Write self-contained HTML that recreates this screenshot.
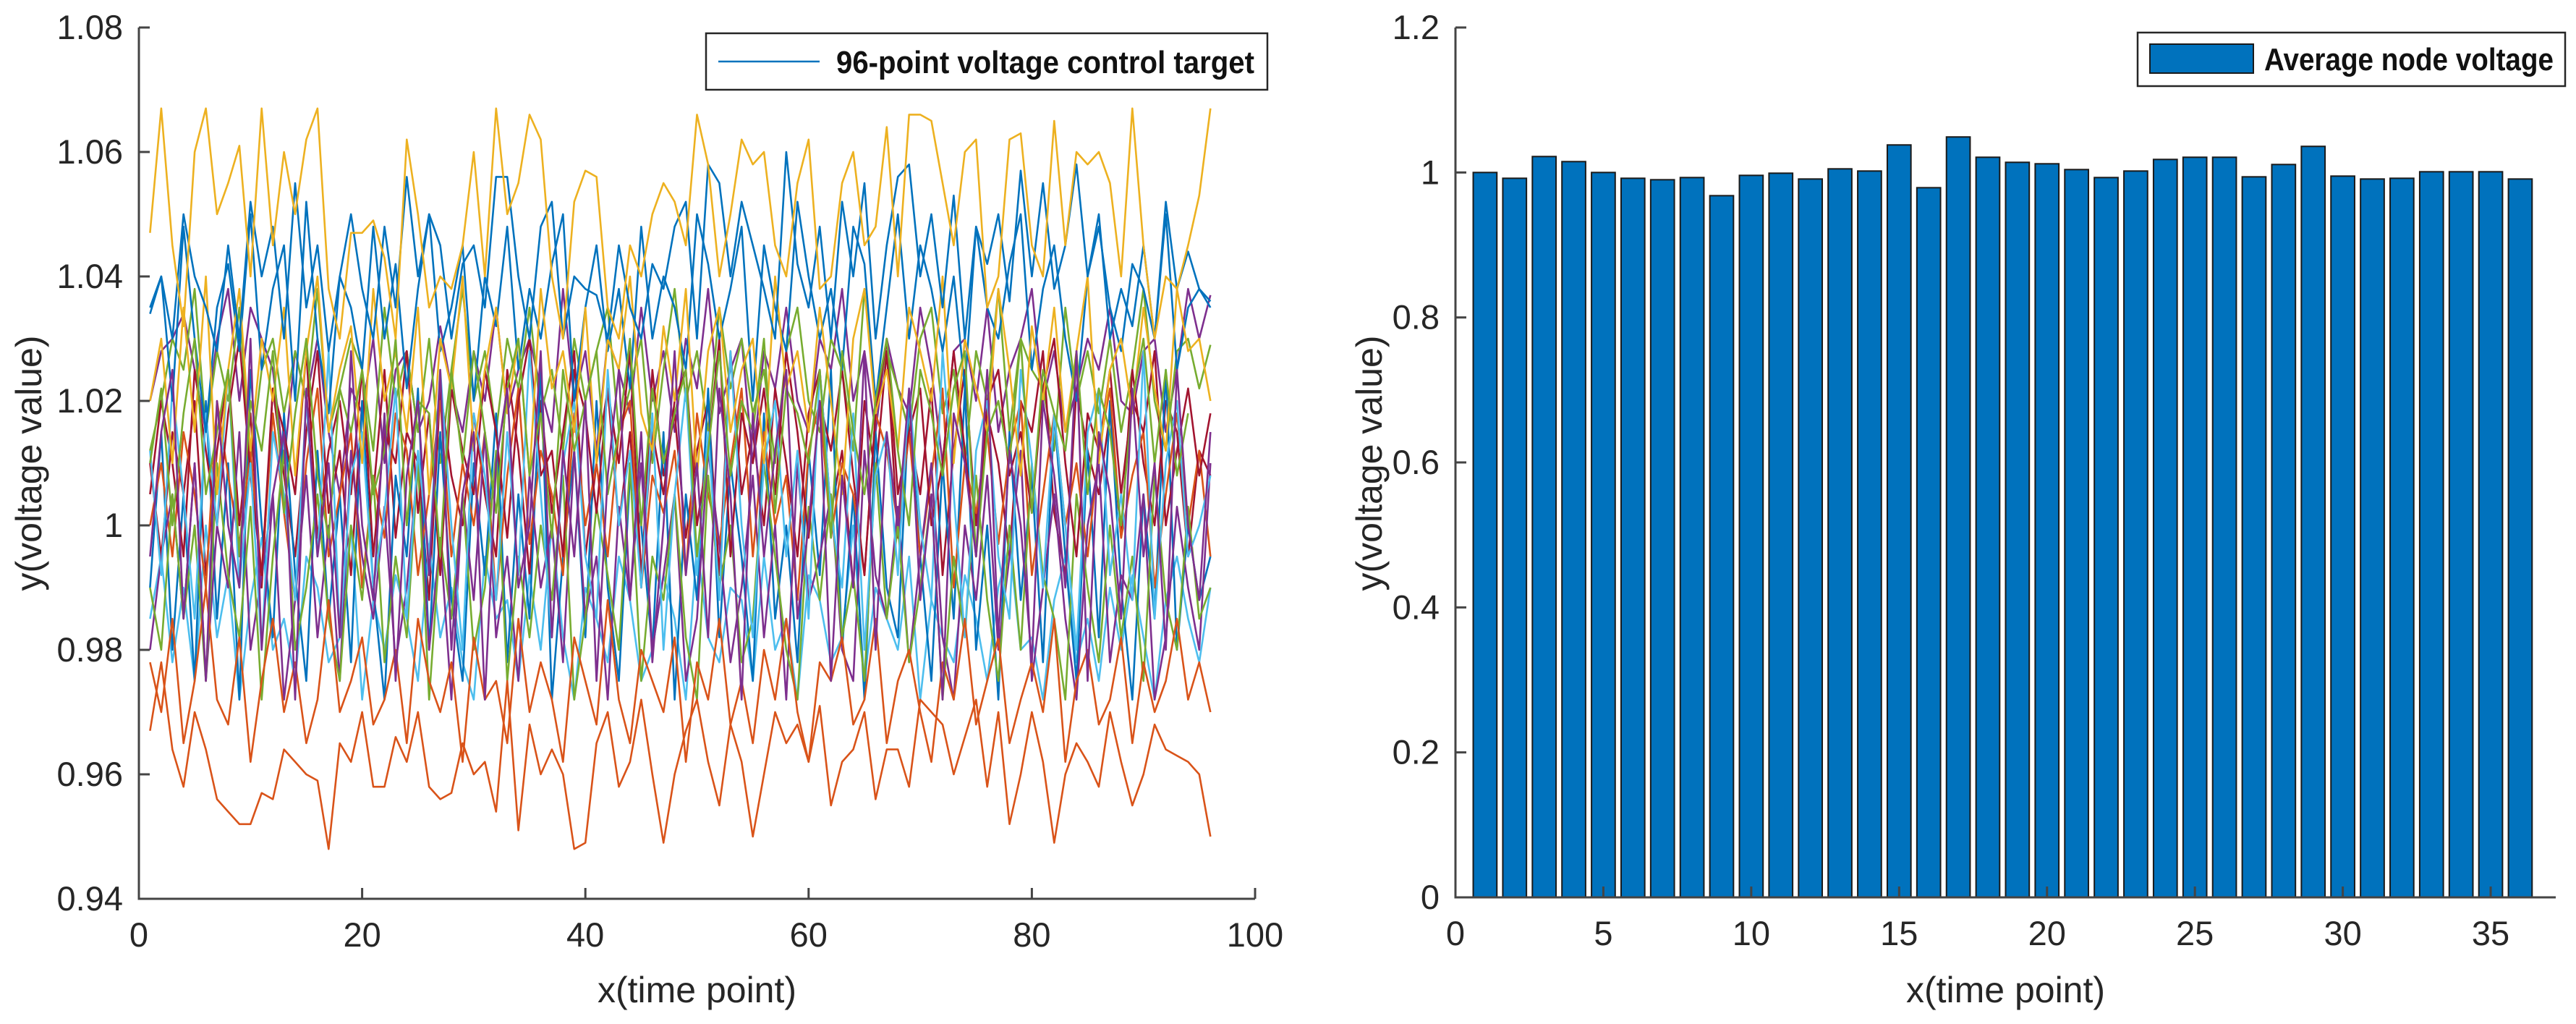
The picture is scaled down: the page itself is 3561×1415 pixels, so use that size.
<!DOCTYPE html>
<html><head><meta charset="utf-8"><style>
html,body{margin:0;padding:0;background:#fff;}
svg{display:block;font-family:"Liberation Sans",Arial,sans-serif;}
</style></head><body>
<svg id="chart" width="3561" height="1415" viewBox="0 0 3561 1415" xmlns="http://www.w3.org/2000/svg">
<g id="left"></g>
<g id="right"></g>
</svg>
<script>
// ---- Left chart data (values in thousandths offset from 1.0) ----
const leftXTicks = [0,20,40,60,80,100];
const leftYTicks = [0.94,0.96,0.98,1,1.02,1.04,1.06,1.08];
const leftYTickLabels = ["0.94","0.96","0.98","1","1.02","1.04","1.06","1.08"];
const seriesColors = ["#EDB120","#D95319","#0072BD","#7E2F8E","#77AC30","#A2142F","#4DBEEE","#0072BD","#D95319","#7E2F8E","#77AC30","#A2142F","#4DBEEE","#0072BD","#D95319","#EDB120","#77AC30","#7E2F8E"];
const s1 = [47,67,45,32,60,67,50,55,61,40,67,45,60,50,62,67,38,30,47,47,49,43,30,62,50,35,40,38,45,60,40,67,50,55,66,62,40,30,52,57,56,35,30,45,40,50,55,52,45,66,58,40,50,62,58,60,45,40,55,62,38,40,55,60,45,48,64,40,66,66,65,55,45,60,62,35,40,62,63,45,40,65,45,60,58,60,55,40,67,45,30,40,38,45,53,67];
const s2 = [-33,-22,-36,-42,-30,-36,-44,-46,-48,-48,-43,-44,-36,-38,-40,-41,-52,-35,-38,-30,-42,-42,-34,-38,-30,-42,-44,-43,-35,-40,-38,-46,-25,-49,-32,-40,-36,-40,-52,-51,-35,-30,-42,-38,-28,-40,-51,-40,-33,-28,-38,-45,-32,-38,-50,-40,-30,-35,-32,-38,-29,-45,-38,-36,-30,-44,-36,-36,-42,-28,-30,-32,-40,-34,-28,-42,-30,-48,-40,-30,-38,-51,-40,-35,-38,-42,-30,-38,-45,-40,-32,-36,-37,-38,-40,-50];
const s3 = [35,40,30,50,40,35,28,45,30,52,40,48,30,55,35,45,28,40,50,38,30,48,35,56,40,50,45,30,42,45,35,56,56,40,30,48,52,30,40,38,37,30,45,35,30,42,38,48,52,30,58,55,40,52,45,38,30,60,42,35,48,30,52,40,55,30,45,56,58,40,50,35,53,30,48,42,50,36,57,40,55,38,45,58,40,50,30,38,32,45,30,52,38,44,38,36];
const s4 = [20,28,30,34,25,15,30,38,20,35,30,25,10,28,20,30,15,5,22,18,30,10,25,28,15,20,32,22,15,28,20,35,18,25,30,22,15,38,20,28,12,30,25,18,35,20,28,15,30,22,38,18,25,30,10,28,22,35,20,15,30,25,38,20,28,15,30,22,18,35,25,10,28,30,20,35,15,25,30,38,20,28,15,22,30,25,35,20,18,28,30,15,25,38,30,37];
const s5 = [12,20,30,25,38,15,28,20,35,10,25,30,18,28,20,38,15,22,30,25,12,35,20,28,15,30,10,25,38,20,28,15,30,22,35,18,25,12,30,20,28,35,15,22,30,10,25,38,20,28,15,35,22,30,18,25,10,28,35,20,15,30,25,12,38,20,28,22,15,30,35,18,25,10,28,20,38,15,30,25,22,12,35,20,28,18,30,15,25,38,20,12,28,30,22,29];
const s6 = [10,-5,15,5,20,-8,12,25,0,18,-10,22,8,-5,15,28,2,12,-8,20,5,25,-2,15,10,-12,22,8,0,18,5,-5,25,12,-8,20,2,15,28,-5,10,22,0,15,-10,25,8,18,-2,12,20,-8,28,5,15,0,22,10,-5,18,25,2,12,-10,20,8,28,-2,15,5,22,-8,12,25,0,18,10,-5,20,15,28,2,-8,22,12,5,18,-2,25,10,0,20,15,-5,12,8];
const s7 = [-15,-5,-22,-10,-25,0,-18,-8,-28,-12,-2,-20,-15,-25,-5,-10,-22,-18,0,-28,-12,-20,-8,-15,-25,-3,-18,-10,-22,-28,-5,-15,-12,-25,-8,-20,0,-18,-28,-10,-15,-22,-5,-12,-25,-20,-8,-15,-28,-3,-18,-22,-10,-12,-25,-5,-20,-15,-28,-8,-12,-22,-18,0,-25,-10,-15,-20,-5,-28,-12,-18,-22,-8,-15,-25,-10,-3,-20,-18,-28,-12,-5,-22,-15,-25,-10,-20,-8,-18,-28,-12,-5,-15,-22,-10];
const s8 = [-10,15,-20,5,-25,20,-15,10,-28,25,0,-18,18,-8,-25,12,-15,5,-22,20,-10,-28,8,-5,22,-20,15,-12,-25,10,-8,18,-22,5,-15,25,-28,-5,12,-18,20,-10,-25,8,0,-20,15,-28,5,-12,22,-18,10,-5,-25,18,-15,0,-22,12,-8,25,-20,5,-28,15,-10,-18,20,-5,-25,10,-15,22,-20,0,-28,15,-12,8,-22,18,-5,-25,12,-18,20,-10,-28,5,-15,25,-20,0,-12,-5];
const s9 = [0,10,-5,15,5,-10,20,8,-3,12,-8,18,2,-12,10,22,-5,5,15,-10,8,-2,18,12,-8,5,20,-5,10,0,15,-12,8,22,-3,12,5,-8,18,0,10,-5,15,20,-10,8,2,12,-8,18,5,-3,10,22,-5,15,0,8,-12,12,20,-2,10,5,-8,18,12,0,15,-5,8,22,-10,10,2,15,-3,12,20,-8,5,18,0,10,-5,12,22,-2,8,15,-10,5,18,0,12,-5];
const s10 = [-20,-5,5,-15,10,-25,0,-10,15,-20,-8,5,-28,-12,8,-18,0,-25,12,-5,-15,3,-22,-10,10,-20,-2,-28,5,-12,15,-18,-5,-25,8,-10,0,-22,12,-15,-5,-28,3,-12,10,-20,-8,5,-25,-15,12,-3,-22,-10,8,-18,0,-28,10,-12,-5,5,-20,-25,12,-8,-15,3,-22,-5,10,-18,-28,0,-12,8,-20,-5,12,-25,-10,5,-15,-28,0,10,-22,-8,-12,5,-28,-18,3,-10,-20,10];
const s11 = [-10,-20,5,-15,0,-25,10,-8,-18,3,-28,-5,12,-20,-10,5,-15,-25,0,-12,8,-22,-5,-18,10,-28,-2,-15,5,-20,-10,12,-25,-5,-18,0,-12,8,-28,-15,3,-8,-20,10,-25,-5,-12,5,-18,-28,8,-10,0,-22,-15,10,-5,-20,-28,3,-12,5,-18,-8,-25,10,-15,0,-22,-10,5,-28,-5,-18,8,-12,-25,0,-20,10,-8,-15,-28,5,-10,-22,0,-18,-5,-25,8,-12,-20,3,-15,-10];
const s12 = [5,20,10,-5,25,12,0,18,30,8,-8,22,15,5,28,-2,12,20,5,25,-5,15,10,28,2,18,-8,22,12,5,25,15,-2,20,30,8,12,-5,25,18,2,22,10,28,-8,15,5,20,25,0,12,30,-5,18,10,22,5,28,15,-2,20,12,25,8,-8,18,30,5,15,22,0,10,28,12,-5,20,25,8,15,2,22,30,10,-5,18,12,25,5,20,15,28,0,12,22,8,18];
const s13 = [12,-8,22,5,-15,18,0,25,-10,10,-20,15,5,-12,20,-5,28,-18,8,15,-10,2,22,-15,12,-5,25,0,-20,18,8,-12,15,-8,28,5,-18,10,20,-5,-15,25,0,12,-10,18,-20,5,22,-8,15,-12,28,0,-18,10,20,-5,12,-15,25,2,-10,18,-20,8,15,-8,22,0,-12,28,5,-18,12,20,-5,-15,25,10,-10,18,0,-20,15,22,-8,5,-12,28,-15,10,20,-5,0,8];
const s14 = [34,40,20,48,30,15,35,42,28,50,25,38,45,20,52,30,18,40,35,25,48,30,42,22,38,50,28,35,45,20,40,32,48,25,38,30,42,50,20,35,45,28,38,22,48,30,40,35,25,50,42,30,38,48,20,45,35,28,52,40,30,38,25,48,42,20,35,50,30,45,38,28,40,22,48,35,30,42,50,25,38,45,30,20,40,48,35,28,42,38,30,50,25,35,38,35];
const s15 = [-22,-30,-15,-35,-25,-10,-28,-32,-18,-38,-25,-15,-30,-22,-35,-28,-12,-30,-25,-18,-32,-28,-20,-35,-15,-25,-30,-22,-38,-18,-28,-25,-35,-15,-30,-22,-28,-38,-18,-25,-32,-12,-28,-35,-20,-25,-30,-18,-38,-22,-28,-15,-32,-25,-35,-20,-28,-15,-30,-38,-22,-25,-18,-32,-28,-15,-35,-25,-20,-30,-38,-22,-28,-15,-32,-25,-18,-35,-28,-22,-30,-15,-38,-25,-20,-32,-28,-18,-35,-22,-30,-25,-15,-28,-22,-30];
const s16 = [20,30,10,35,15,40,5,25,38,12,30,20,35,8,28,40,15,25,32,10,38,20,28,15,35,5,30,22,40,12,25,35,18,30,8,38,22,28,15,35,10,30,25,40,18,12,32,20,38,8,28,35,15,25,30,10,40,22,28,15,35,20,5,30,38,18,25,12,35,28,20,40,10,30,22,15,38,25,8,32,20,35,15,28,40,10,25,30,18,35,22,12,38,28,30,20];
const s17 = [10,22,0,18,30,5,15,25,-5,20,12,28,2,18,30,8,-2,22,15,25,5,12,30,0,20,18,-5,25,10,28,15,2,22,30,8,18,-2,25,12,20,28,5,15,30,0,22,10,18,25,-5,12,28,8,20,15,30,2,22,18,10,25,-2,28,15,5,20,30,12,0,25,18,8,22,28,-5,15,20,10,30,2,25,18,12,28,5,22,15,0,20,30,10,25,8,18];
const s18 = [-5,15,25,-15,10,-25,20,0,-10,30,-20,5,15,-28,22,-5,10,-18,28,0,-12,18,-25,8,20,-8,25,-20,5,15,-28,10,22,-10,0,28,-18,12,-5,20,-25,8,25,-12,15,-22,0,28,-8,10,-18,22,5,-28,18,-5,12,25,-15,0,20,-25,8,-10,28,-20,15,0,22,-12,5,-28,18,10,-5,25,-18,12,0,-22,20,8,-10,28,-25,15,5,-15,22,-5,10,-20,25,0,-12,15];
const leftSeries = [s4,s5,s6,s7,s8,s9,s10,s11,s12,s13,s14,s15,s16,s17,s18,s3,s2,s1];
const leftColors = [seriesColors[3],seriesColors[4],seriesColors[5],seriesColors[6],seriesColors[7],seriesColors[8],seriesColors[9],seriesColors[10],seriesColors[11],seriesColors[12],seriesColors[13],seriesColors[14],seriesColors[15],seriesColors[16],seriesColors[17],seriesColors[2],seriesColors[1],seriesColors[0]];

// ---- Right chart data ----
const barCategories = [1,2,3,4,5,6,7,8,9,10,11,12,13,14,15,16,17,18,19,20,21,22,23,24,25,26,27,28,29,30,31,32,33,34,35,36];
const barValues = [1.000,0.992,1.022,1.015,1.000,0.992,0.990,0.993,0.968,0.996,0.999,0.991,1.005,1.002,1.038,0.979,1.049,1.021,1.014,1.012,1.004,0.993,1.002,1.018,1.021,1.021,0.994,1.011,1.036,0.995,0.991,0.992,1.001,1.001,1.001,0.991];
const rightXTicks = [0,5,10,15,20,25,30,35];
const rightYTicks = [0,0.2,0.4,0.6,0.8,1,1.2];
const rightYTickLabels = ["0","0.2","0.4","0.6","0.8","1","1.2"];

const NS = "http://www.w3.org/2000/svg";
function mk(tag, attrs, parent){const e=document.createElementNS(NS,tag);for(const k in attrs)e.setAttribute(k,attrs[k]);parent.appendChild(e);return e;}
const AX = "#444";
const TXT = "#262626";

// Left axes
const L = {x0:192,x1:1735,y0:1242,y1:38,xmin:0,xmax:100,ymin:0.94,ymax:1.08};
const lx = v => L.x0 + (v-L.xmin)/(L.xmax-L.xmin)*(L.x1-L.x0);
const ly = v => L.y0 - (v-L.ymin)/(L.ymax-L.ymin)*(L.y0-L.y1);
const gl = document.getElementById('left');

const plotArea = mk('g',{},gl);


leftSeries.forEach((s,i)=>{
  const pts = s.map((v,j)=>lx(j+1).toFixed(1)+','+ly(1+v/1000).toFixed(1)).join(' ');
  const pl = mk('polyline',{points:pts,fill:'none',stroke:leftColors[i],'stroke-width':2.6,'stroke-linejoin':'round'},plotArea);
  
  
});

const lAxes = mk('g',{},gl);


mk('line',{x1:L.x0,y1:L.y1,x2:L.x0,y2:L.y0+1.5,stroke:AX,'stroke-width':3},lAxes);
mk('line',{x1:L.x0-1.5,y1:L.y0,x2:L.x1,y2:L.y0,stroke:AX,'stroke-width':3},lAxes);
leftXTicks.forEach(t=>{
  const x=lx(t);
  mk('line',{x1:x,y1:L.y0,x2:x,y2:L.y0-15,stroke:AX,'stroke-width':3},lAxes);
  const tx=mk('text',{x:x,y:1308,'text-anchor':'middle','font-size':47,fill:TXT},lAxes);
  tx.textContent=t;
  
  
});
leftYTicks.forEach((t,i)=>{
  const y=ly(t);
  mk('line',{x1:L.x0,y1:y,x2:L.x0+15,y2:y,stroke:AX,'stroke-width':3},lAxes);
  const tx=mk('text',{x:170,y:y+16,'text-anchor':'end','font-size':47,fill:TXT},lAxes);
  tx.textContent=leftYTickLabels[i];
  
  
});
const lxt=mk('text',{x:(L.x0+L.x1)/2,y:1385,'text-anchor':'middle','font-size':50,fill:TXT},gl);
lxt.textContent='x(time point)';


const lyt=mk('text',{x:0,y:0,'text-anchor':'middle','font-size':50,fill:TXT,transform:'translate(57,640) rotate(-90)'},gl);
lyt.textContent='y(voltage value)';


// Left legend
const lleg=mk('g',{},gl);


mk('rect',{x:976,y:46,width:776,height:78,fill:'#fff',stroke:'#262626','stroke-width':2.5},lleg);
mk('line',{x1:993,y1:85,x2:1133,y2:85,stroke:'#0072BD','stroke-width':2.6},lleg);
const llt=mk('text',{x:1156,y:101,'font-size':44,'font-weight':'bold',fill:'#111',textLength:578,lengthAdjust:'spacingAndGlyphs'},lleg);
llt.textContent='96-point voltage control target';

// Right axes
const R = {x0:2012,x1:3533,y0:1240,y1:38,xmin:0,xmax:37.2,ymin:0,ymax:1.2};
const rx = v => R.x0 + (v-R.xmin)/(R.xmax-R.xmin)*(R.x1-R.x0);
const ry = v => R.y0 - (v-R.ymin)/(R.ymax-R.ymin)*(R.y0-R.y1);
const gr=document.getElementById('right');
const bars=mk('g',{},gr);


const bw = 0.8;
barCategories.forEach((c,i)=>{
  const x1=rx(c-bw/2), x2=rx(c+bw/2), yt=ry(barValues[i]);
  const r=mk('rect',{x:x1,y:yt,width:x2-x1,height:ry(0)-yt,fill:'#0072BD',stroke:'#1a1a1a','stroke-width':2},bars);
  
  
});
const rAxes=mk('g',{},gr);


mk('line',{x1:R.x0,y1:R.y1,x2:R.x0,y2:R.y0+1.5,stroke:AX,'stroke-width':3},rAxes);
mk('line',{x1:R.x0-1.5,y1:R.y0,x2:R.x1,y2:R.y0,stroke:AX,'stroke-width':3},rAxes);
rightXTicks.forEach(t=>{
  const x=rx(t);
  mk('line',{x1:x,y1:R.y0,x2:x,y2:R.y0-15,stroke:AX,'stroke-width':3},rAxes);
  const tx=mk('text',{x:x,y:1306,'text-anchor':'middle','font-size':47,fill:TXT},rAxes);
  tx.textContent=t;
  
  
});
rightYTicks.forEach((t,i)=>{
  const y=ry(t);
  mk('line',{x1:R.x0,y1:y,x2:R.x0+15,y2:y,stroke:AX,'stroke-width':3},rAxes);
  const tx=mk('text',{x:1990,y:y+16,'text-anchor':'end','font-size':47,fill:TXT},rAxes);
  tx.textContent=rightYTickLabels[i];
  
  
});
const rxt=mk('text',{x:(R.x0+R.x1)/2,y:1385,'text-anchor':'middle','font-size':50,fill:TXT},gr);
rxt.textContent='x(time point)';


const ryt=mk('text',{x:0,y:0,'text-anchor':'middle','font-size':50,fill:TXT,transform:'translate(1910,640) rotate(-90)'},gr);
ryt.textContent='y(voltage value)';


const rleg=mk('g',{},gr);


mk('rect',{x:2955,y:45,width:591,height:74,fill:'#fff',stroke:'#262626','stroke-width':2.5},rleg);
mk('rect',{x:2972,y:61,width:143,height:40,fill:'#0072BD',stroke:'#1a1a1a','stroke-width':2},rleg);
const rlt=mk('text',{x:3130,y:97,'font-size':44,'font-weight':'bold',fill:'#111',textLength:400,lengthAdjust:'spacingAndGlyphs'},rleg);
rlt.textContent='Average node voltage';
</script>
</body></html>
